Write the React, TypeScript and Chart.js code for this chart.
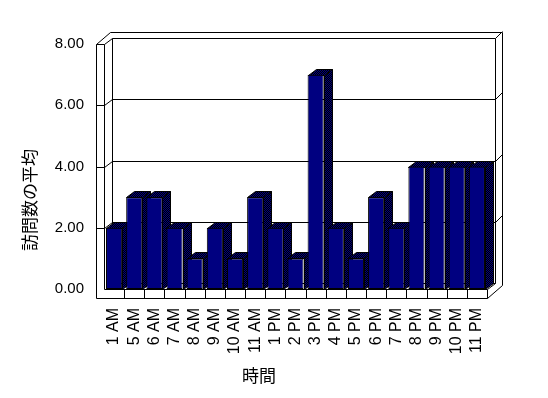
import React, { useEffect, useRef } from 'react';
import { Chart, registerables } from 'chart.js';

Chart.register(...registerables);

const categories = ['1 AM', '5 AM', '6 AM', '7 AM', '8 AM', '9 AM', '10 AM', '11 AM', '1 PM', '2 PM', '3 PM', '4 PM', '5 PM', '6 PM', '7 PM', '8 PM', '9 PM', '10 PM', '11 PM'];
const averageVisits = [2, 3, 3, 2, 1, 2, 1, 3, 2, 1, 7, 2, 1, 3, 2, 4, 4, 4, 4];
const yTicks = [0, 2, 4, 6, 8];
const yTitle = '訪問数の平均';
const xTitle = '時間';

const DX = 8, DY = -6, OX = 15, OY = -13, WALL = 8, FLOOR = 9;

function makePattern(ctx: CanvasRenderingContext2D) {
  const pc = document.createElement('canvas');
  pc.width = 2; pc.height = 2;
  const p = pc.getContext('2d')!;
  p.fillStyle = '#000000';
  p.fillRect(0, 0, 2, 2);
  p.fillStyle = '#000080';
  p.fillRect(0, 0, 1, 1);
  p.fillRect(1, 1, 1, 1);
  return ctx.createPattern(pc, 'repeat')!;
}

const c = (v: number) => Math.round(v) + 0.5;

function seg(ctx: CanvasRenderingContext2D, pts: number[]) {
  ctx.beginPath();
  ctx.moveTo(c(pts[0]), c(pts[1]));
  for (let i = 2; i < pts.length; i += 2) ctx.lineTo(c(pts[i]), c(pts[i + 1]));
  ctx.stroke();
}

function poly(ctx: CanvasRenderingContext2D, pts: number[], fill: any) {
  ctx.beginPath();
  ctx.moveTo(c(pts[0]), c(pts[1]));
  for (let i = 2; i < pts.length; i += 2) ctx.lineTo(c(pts[i]), c(pts[i + 1]));
  ctx.closePath();
  ctx.fillStyle = fill;
  ctx.fill();
  ctx.stroke();
}

const frame3d = {
  id: 'frame3d',
  beforeDatasetsDraw(chart: any) {
    const { ctx, chartArea: ca, scales } = chart;
    const ys = scales.y, xs = scales.x;
    const L = ca.left, R = ca.right;
    const T = ys.getPixelForValue(8), B = ys.getPixelForValue(0);
    ctx.save();
    ctx.lineWidth = 1;
    ctx.strokeStyle = '#000';
    // back wall
    seg(ctx, [L + DX, T + DY, L + DX, B + DY]);
    seg(ctx, [R + DX, T + DY, R + DX, B + DY]);
    for (const v of yTicks) {
      const y = ys.getPixelForValue(v);
      if (v > 0) {
        seg(ctx, [L - WALL, y, L, y]);
        seg(ctx, [L, y, L + DX, y + DY]);
        seg(ctx, [R + DX, y + DY, R + OX, y + OY]);
      }
      seg(ctx, [L + DX, y + DY, R + DX, y + DY]);
    }
    // left wall & outer frame
    seg(ctx, [L, T, L, B]);
    seg(ctx, [L - WALL, T, L - WALL, B + FLOOR]);
    seg(ctx, [L - WALL, T, L - WALL + OX - 1, T + OY + 1, R + OX, T + OY + 1, R + OX, B + FLOOR + OY, R, B + FLOOR, L - WALL, B + FLOOR]);
    // floor
    seg(ctx, [L, B, R, B]);
    seg(ctx, [R, B, R, B + FLOOR]);
    seg(ctx, [R, B, R + DX, B + DY]);
    for (let i = 1; i < categories.length; i++) {
      const x = (xs.getPixelForValue(i - 1) + xs.getPixelForValue(i)) / 2;
      seg(ctx, [x, B, x, B + FLOOR]);
    }
    // bar tops and sides
    const pat = makePattern(ctx);
    const meta = chart.getDatasetMeta(0);
    meta.data.forEach((el: any) => {
      const { x, y, base, width } = el.getProps(['x', 'y', 'base', 'width'], true);
      const l = x - width / 2, r = x + width / 2;
      poly(ctx, [r, y, r + DX, y + DY, r + DX, base + DY, r, base], pat);
      poly(ctx, [l, y, r, y, r + DX, y + DY, l + DX, y + DY], pat);
    });
    ctx.restore();
  },
  afterDraw(chart: any) {
    const { ctx } = chart;
    ctx.save();
    ctx.fillStyle = '#000';
    ctx.textAlign = 'center';
    ctx.textBaseline = 'middle';
    ctx.font = '17px "Noto Sans CJK JP"';
    ctx.fillText(xTitle, 259, 376);
    ctx.translate(30, 200);
    ctx.rotate(-Math.PI / 2);
    ctx.fillText(yTitle, 0, 0);
    ctx.restore();
  },
};

export default function App() {
  const ref = useRef<HTMLCanvasElement>(null);
  useEffect(() => {
    const chart = new Chart(ref.current!, {
      type: 'bar',
      data: {
        labels: categories,
        datasets: [{
          data: averageVisits,
          backgroundColor: '#000080',
          borderColor: '#000000',
          borderWidth: 1,
          borderSkipped: false,
          categoryPercentage: 1,
          barPercentage: 0.8,
        }],
      },
      options: {
        responsive: false,
        animation: false,
        devicePixelRatio: 1,
        layout: { padding: { top: 44, right: 61, left: 0, bottom: 0 } },
        plugins: { legend: { display: false }, tooltip: { enabled: false } },
        scales: {
          x: {
            grid: { display: false, drawTicks: false },
            border: { display: false },
            ticks: {
              autoSkip: false, minRotation: 90, maxRotation: 90, padding: 19,
              color: '#000', font: { family: '"Liberation Sans", Arial, sans-serif', size: 16 },
            },
            afterFit: (s: any) => { s.height = 109; },
          },
          y: {
            min: 0, max: 8,
            grid: { display: false, drawTicks: false },
            border: { display: false },
            afterBuildTicks: (s: any) => { s.ticks = yTicks.map((v) => ({ value: v })); },
            ticks: {
              padding: 20, color: '#000',
              font: { family: '"Liberation Sans", Arial, sans-serif', size: 15 },
              callback: (v: any) => Number(v).toFixed(2),
            },
            afterFit: (s: any) => { s.width = 104; },
          },
        },
      },
      plugins: [frame3d],
    });
    return () => chart.destroy();
  }, []);
  return (
    <div style={{ position: 'fixed', left: 0, top: 0, width: 548, height: 398, background: '#fff' }}>
      <canvas ref={ref} width={548} height={398} style={{ display: 'block' }} />
    </div>
  );
}
